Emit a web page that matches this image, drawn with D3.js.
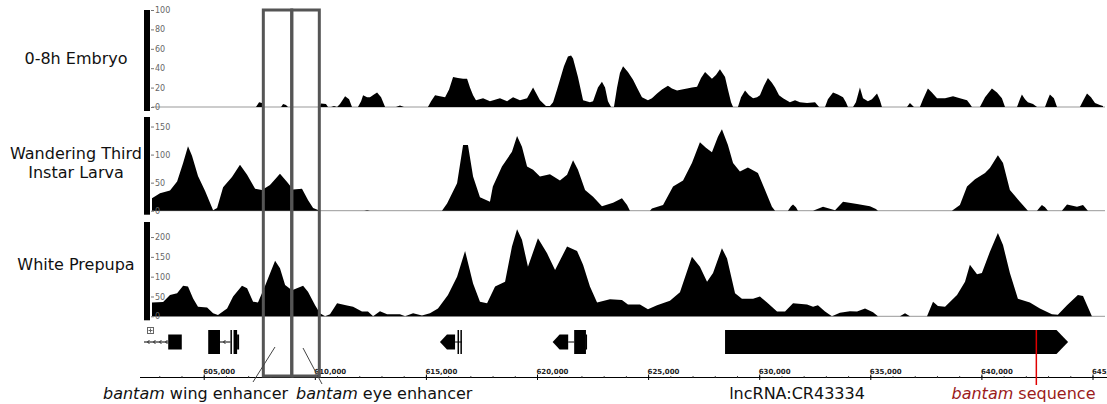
<!DOCTYPE html>
<html>
<head>
<meta charset="utf-8">
<script src="https://cdn.jsdelivr.net/npm/d3@7"></script>
<style>
  body { margin: 0; background: #fff; }
  svg { display: block; }
  text { font-family: "DejaVu Sans", Verdana, sans-serif; }
</style>
</head>
<body>
<div id="chart"></div>
<script>
// coverage tracks: [position (kb), coverage]
var embryo = [[602.65,0],[607.33,0],[607.47,5],[607.60,4],[607.69,0],[608.46,0],[608.55,3],[608.68,2],[608.77,0],
  [610.17,0],[610.26,3.5],[610.48,3],[610.57,0],[610.71,0],[610.84,1],[610.98,0],[611.11,3],[611.34,11],[611.52,8],[611.65,0],
  [611.92,0],[612.06,6],[612.15,12],[612.33,10],[612.46,10],[612.64,13],[612.78,15],[612.96,10],[613.14,0],[613.63,0],[613.81,1.5],[613.99,0],
  [615.07,0],[615.21,6],[615.39,12],[615.61,11],[615.84,10],[616.02,18],[616.20,31],[616.42,30],[616.65,29],[616.83,29],[616.96,20],
  [617.10,12],[617.23,7],[617.55,9],[617.86,6],[618.31,9],[618.63,6],[618.90,10],[619.21,7],[619.53,9],[619.80,20],[620.11,7],
  [620.38,1],[620.56,1],[620.70,5],[620.88,18],[621.01,28],[621.19,42],[621.37,52],[621.51,53],[621.60,50],[621.82,31],[622.05,7],
  [622.36,5],[622.50,6],[622.72,20],[622.90,26],[623.04,20],[623.17,6],[623.31,0],[623.44,0],[623.58,20],[623.71,35],[623.85,42],
  [624.07,36],[624.30,28],[624.52,18],[624.70,10],[624.97,7],[625.15,9],[625.38,14],[625.60,18],[625.87,22],[626.05,19],[626.28,17],
  [626.50,18],[626.73,19],[626.95,20],[627.18,21],[627.36,30],[627.54,36],[627.85,29],[628.03,33],[628.21,39],[628.44,31],[628.57,18],
  [628.71,5],[628.80,0],[629.02,0],[629.16,10],[629.34,17],[629.52,12],[629.70,9],[629.88,10],[630.01,12],[630.19,22],[630.37,30],
  [630.55,25],[630.69,20],[630.87,12],[631.05,9],[631.36,5],[631.59,7],[631.81,5],[632.13,4],[632.49,5],[632.67,0],
  [632.94,0],[633.07,8],[633.30,15],[633.52,13],[633.75,10],[633.88,5],[633.97,0],
  [634.20,0],[634.33,5],[634.51,20],[634.65,9],[634.87,6],[635.05,8],[635.28,14],[635.41,7],[635.50,0],
  [636.63,0],[636.76,4],[636.94,0],[637.21,0],[637.35,8],[637.57,19],[637.75,15],[637.98,9],[638.34,9],[638.70,11],[639.01,9],
  [639.33,7],[639.46,3],[639.55,0],[639.91,0],[640.14,10],[640.45,19],[640.68,15],[640.90,9],[641.04,0],
  [641.58,0],[641.71,8],[641.80,13],[641.94,8],[642.07,5],[642.30,3],[642.48,0],[642.84,0],[642.97,8],[643.06,13],[643.24,9],[643.38,0],
  [644.41,0],[644.59,8],[644.73,14],[644.91,10],[645.09,4],[645.31,2],[645.45,1]];

var larva = [[602.65,22],[603.01,31],[603.46,36],[603.78,52],[604.05,85],[604.27,115],[604.45,98],[604.72,62],[605.04,35],
  [605.40,1],[605.58,5],[605.85,42],[606.25,60],[606.61,82],[606.93,64],[607.29,39],[607.60,37],[607.96,46],[608.41,66],
  [608.73,51],[609.00,38],[609.40,39],[609.67,19],[609.90,5],[610.21,0],[612.20,0],[612.33,1],[612.46,0],
  [615.70,0],[615.93,13],[616.38,49],[616.65,117],[616.87,117],[617.10,61],[617.41,24],[617.86,16],[617.99,43],[618.40,79],
  [618.85,105],[619.08,133],[619.30,114],[619.53,79],[619.80,73],[620.11,61],[620.56,65],[621.01,54],[621.33,64],[621.60,90],
  [621.82,73],[622.14,37],[622.50,25],[622.90,8],[623.40,14],[623.80,22],[624.03,10],[624.16,0],
  [625.06,0],[625.15,4],[625.65,10],[626.10,43],[626.55,54],[626.95,85],[627.31,122],[627.58,112],[627.85,104],[628.12,132],
  [628.30,145],[628.57,117],[628.80,85],[629.11,70],[629.47,77],[629.92,67],[630.24,37],[630.55,7],[630.69,0],
  [631.27,0],[631.41,8],[631.50,11],[631.63,6],[631.72,0],[632.40,0],[632.85,7],[633.39,1],[633.75,16],[634.38,12],
  [634.96,8],[635.23,3],[635.32,0],[638.65,0],[639.01,10],[639.33,43],[639.69,56],[640.14,67],[640.36,76],[640.72,99],
  [640.95,85],[641.26,37],[641.71,16],[642.07,0],[642.48,0],[642.61,6],[642.70,10],[642.84,6],[642.97,0],
  [643.60,0],[643.83,11],[644.28,7],[644.55,10],[644.77,0],[645.45,0]];

var prepupa = [[602.65,35],[603.15,36],[603.46,54],[603.78,58],[604.05,77],[604.27,75],[604.50,45],[604.72,24],[605.13,22],
  [605.40,8],[605.62,3],[606.03,20],[606.30,50],[606.70,77],[606.93,71],[607.20,37],[607.42,35],[607.74,77],[608.19,140],
  [608.41,121],[608.64,79],[608.95,66],[609.45,77],[609.67,62],[609.99,28],[610.21,8],[610.44,0],[610.66,5],[610.98,33],
  [611.43,27],[611.70,24],[612.10,12],[612.37,12],[612.60,0],[612.91,13],[613.23,5],[613.81,5],[614.04,0],[614.40,8],
  [614.80,2],[615.16,8],[615.52,20],[615.97,54],[616.38,100],[616.74,165],[617.10,83],[617.41,37],[617.73,33],[618.09,75],
  [618.54,87],[618.85,176],[619.08,220],[619.30,193],[619.57,125],[620.02,197],[620.43,159],[620.79,117],[621.33,176],
  [621.78,165],[622.05,130],[622.36,75],[622.68,35],[623.26,43],[623.80,41],[624.07,30],[624.61,30],[624.97,18],[625.38,28],
  [625.96,39],[626.41,61],[626.95,150],[627.31,125],[627.63,87],[627.90,109],[628.30,172],[628.53,146],[628.89,58],
  [629.20,44],[629.70,44],[630.01,50],[630.33,35],[630.78,12],[631.14,12],[631.50,33],[632.13,30],[632.40,24],[632.62,28],
  [632.94,12],[633.25,0],[633.61,9],[634.06,13],[634.38,12],[634.74,20],[635.10,10],[635.32,0],[636.31,0],[636.54,8],
  [636.76,0],[637.53,0],[637.80,37],[638.02,26],[638.34,24],[638.88,54],[639.24,87],[639.46,130],[639.78,106],[640.00,109],
  [640.36,163],[640.72,210],[640.95,180],[641.26,109],[641.62,44],[642.16,35],[642.61,20],[643.15,5],[643.42,4],
  [643.83,28],[644.32,54],[644.55,51],[644.95,0],[645.45,0]];

var embryoTicks = [0, 20, 40, 60, 80, 100];
var larvaTicks = [0, 50, 100, 150];
var prepupaTicks = [0, 50, 100, 150, 200];
var rulerTicks = [605, 610, 615, 620, 625, 630, 635, 640, 645];

// gene features (kb): start, end, kind
var genes = [
  [602.29, 603.38, "intron"], [603.38, 603.99, "utr"],
  [605.18, 605.71, "cds"], [605.71, 606.18, "intron"], [606.18, 606.22, "cds"], [606.32, 606.48, "cds"], [606.48, 606.57, "utr"],
  [615.61, 616.29, "arrowL"], [616.29, 616.60, "line"], [616.40, 616.44, "cds"], [616.53, 616.57, "cds"],
  [620.68, 621.38, "arrowL"], [621.38, 621.65, "line"], [621.65, 622.18, "cds"], [622.18, 622.23, "utr"],
  [628.44, 643.88, "arrowR"]
];
var enhancers = [[607.66, 608.94], [608.94, 610.18]];
var bantamSeq = 642.45;

var svgWidth = 1107, svgHeight = 404;
var svg = d3.select("#chart").append("svg").attr("width", svgWidth).attr("height", svgHeight);

var x = d3.scaleLinear().domain([602.65, 645.45]).range([152, 1103]);

var tracks = [
  { label: ["0-8h Embryo"], data: embryo, ticks: embryoTicks, max: 100, top: 10, base: 107, labelY: 64 },
  { label: ["Wandering Third", "Instar Larva"], data: larva, ticks: larvaTicks, max: 167, top: 117, base: 210.7, labelY: 168.5 },
  { label: ["White Prepupa"], data: prepupa, ticks: prepupaTicks, max: 238, top: 222, base: 316.3, labelY: 270 }
];

tracks.forEach(function (t) {
  var y = d3.scaleLinear().domain([0, t.max]).range([t.base, t.top]);
  var g = svg.append("g");

  // track name
  var lbl = g.append("text").attr("text-anchor", "middle").attr("font-size", 16).attr("fill", "#111");
  t.label.forEach(function (s, i) {
    lbl.append("tspan").attr("x", 76)
      .attr("y", t.labelY + (i - (t.label.length - 1) / 2) * 19).text(s);
  });

  // data range bar
  g.append("rect").attr("x", 144).attr("y", y(t.max)).attr("width", 6)
    .attr("height", y(0) - y(t.max) + 4).attr("fill", "#000");

  g.append("line").attr("x1", 152).attr("x2", 1105).attr("y1", y(0)).attr("y2", y(0))
    .attr("stroke", "#999").attr("stroke-width", 1);

  var area = d3.area().x(function (d) { return x(d[0]); }).y0(y(0)).y1(function (d) { return y(d[1]); });
  g.append("path").datum(t.data).attr("d", area).attr("fill", "#000");

  var ax = g.append("g").attr("transform", "translate(151,0)")
    .call(d3.axisRight(y).tickValues(t.ticks).tickSize(3).tickPadding(1));
  ax.select(".domain").remove();
  ax.selectAll("line").attr("stroke", "#777");
  ax.selectAll("text").attr("font-size", 8).attr("fill", "#666")
    .attr("font-family", "DejaVu Sans, sans-serif");
});

// gene track
var gy = 342;
var genesG = svg.append("g");
genes.forEach(function (f) {
  var x0 = x(f[0]), x1 = x(f[1]), kind = f[2];
  if (kind === "intron") {
    genesG.append("line").attr("x1", x0).attr("x2", x1).attr("y1", gy).attr("y2", gy)
      .attr("stroke", "#000").attr("stroke-width", 1);
    d3.range(x0 + 4, x1 - 2, 6).forEach(function (cx) {
      genesG.append("path").attr("d", "M" + (cx + 1.5) + "," + (gy - 2) + "L" + (cx - 0.5) + "," + gy + "L" + (cx + 1.5) + "," + (gy + 2))
        .attr("fill", "none").attr("stroke", "#000").attr("stroke-width", 0.8);
    });
  } else if (kind === "line") {
    genesG.append("line").attr("x1", x0).attr("x2", x1).attr("y1", gy).attr("y2", gy)
      .attr("stroke", "#000").attr("stroke-width", 1);
  } else if (kind === "utr") {
    genesG.append("rect").attr("x", x0).attr("y", gy - 7.5).attr("width", x1 - x0).attr("height", 15).attr("fill", "#000");
  } else if (kind === "cds") {
    genesG.append("rect").attr("x", x0).attr("y", gy - 12).attr("width", Math.max(1.5, x1 - x0)).attr("height", 24).attr("fill", "#000");
  } else if (kind === "arrowL") {
    var h = 7.5;
    genesG.append("polygon").attr("points", [[x0, gy], [x0 + 7, gy - h], [x1, gy - h], [x1, gy + h], [x0 + 7, gy + h]].join(" "))
      .attr("fill", "#000");
  } else if (kind === "arrowR") {
    var h2 = 12;
    genesG.append("polygon").attr("points", [[x0, gy - h2], [x1 - 11.6, gy - h2], [x1, gy], [x1 - 11.6, gy + h2], [x0, gy + h2]].join(" "))
      .attr("fill", "#000");
  }
});

// expand icon
svg.append("rect").attr("x", 147.5).attr("y", 327.5).attr("width", 6).attr("height", 6)
  .attr("fill", "#fff").attr("stroke", "#666");
svg.append("path").attr("d", "M150.5,328.5V332.5M148.5,330.5H152.5").attr("stroke", "#666");

// ruler
var rulerY = 377.5;
svg.append("line").attr("x1", 140).attr("x2", 1107).attr("y1", rulerY).attr("y2", rulerY).attr("stroke", "#000");
d3.range(603, 646).forEach(function (k) {
  svg.append("line").attr("x1", x(k)).attr("x2", x(k)).attr("y1", rulerY - 1.5).attr("y2", rulerY)
    .attr("stroke", "#444");
});
rulerTicks.forEach(function (k) {
  svg.append("line").attr("x1", x(k)).attr("x2", x(k)).attr("y1", rulerY - 3).attr("y2", rulerY + 2.5)
    .attr("stroke", "#000");
  svg.append("text").attr("x", x(k) - 1).attr("y", rulerY - 3.5)
    .attr("font-family", "DejaVu Sans Mono, monospace").attr("font-weight", "bold").attr("font-size", 7)
    .attr("fill", "#222").text(d3.format(",")(k * 1000));
});

// bantam sequence marker
svg.append("line").attr("x1", x(bantamSeq)).attr("x2", x(bantamSeq)).attr("y1", 330).attr("y2", 385)
  .attr("stroke", "#e00000").attr("stroke-width", 1.5);

// enhancer boxes
enhancers.forEach(function (e) {
  svg.append("rect").attr("x", x(e[0])).attr("y", 10).attr("width", x(e[1]) - x(e[0])).attr("height", 366)
    .attr("fill", "none").attr("stroke", "#555").attr("stroke-width", 3);
});

// connectors
svg.append("line").attr("x1", 253).attr("y1", 382).attr("x2", 275).attr("y2", 347).attr("stroke", "#444");
svg.append("line").attr("x1", 303).attr("y1", 348).attr("x2", 322).attr("y2", 384).attr("stroke", "#444");

// annotation labels
var lab = svg.append("g").attr("font-size", 16).attr("fill", "#111");
var t1 = lab.append("text").attr("x", 103).attr("y", 399);
t1.append("tspan").attr("font-style", "italic").text("bantam");
t1.append("tspan").text(" wing enhancer");
var t2 = lab.append("text").attr("x", 296).attr("y", 399);
t2.append("tspan").attr("font-style", "italic").text("bantam");
t2.append("tspan").text(" eye enhancer");
lab.append("text").attr("x", 797).attr("y", 399).attr("text-anchor", "middle").text("lncRNA:CR43334");
var t3 = lab.append("text").attr("x", 1023.5).attr("y", 399).attr("text-anchor", "middle").attr("fill", "#9b1b1b");
t3.append("tspan").attr("font-style", "italic").text("bantam");
t3.append("tspan").text(" sequence");
</script>
</body>
</html>
